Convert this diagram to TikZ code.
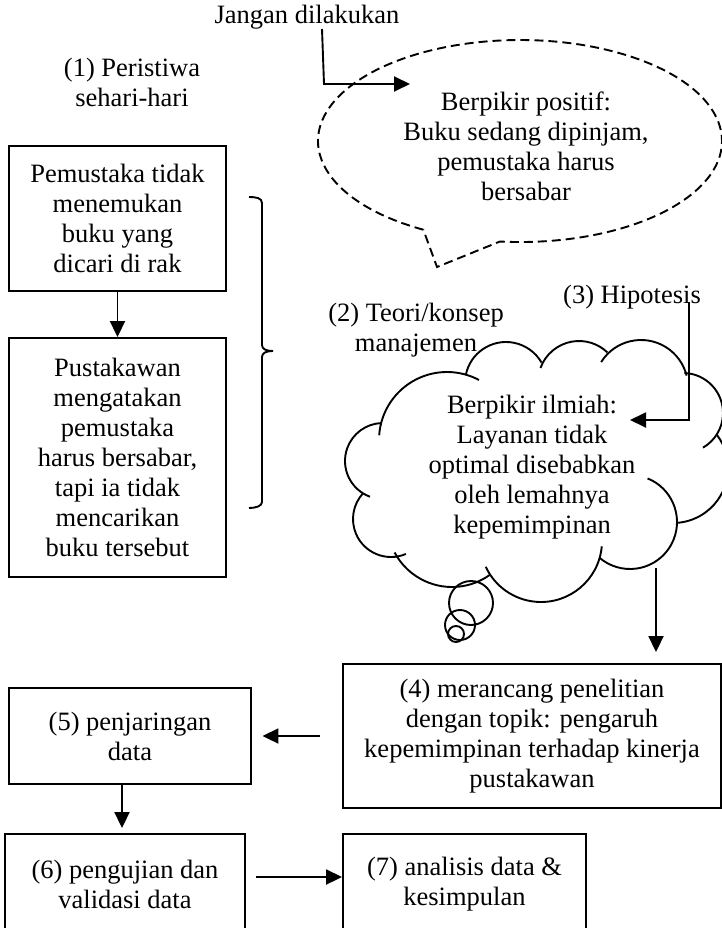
\documentclass[tikz,border=0pt]{standalone}
\usepackage{fontspec}
\setmainfont{Liberation Serif}
\usetikzlibrary{arrows.meta}
\begin{document}
\begin{tikzpicture}[x=1pt,y=-1pt,
  txt/.style={font=\fontsize{26.5}{30}\selectfont, align=center, inner sep=0pt},
  stepbox/.style={txt, draw, line width=1.9pt},
  ln/.style={line width=1.9pt},
  arr/.style={line width=1.9pt, -{Triangle[length=16pt,width=15pt]}},
  bubble/.style={line width=1.9pt, dash pattern=on 9pt off 5pt},
]
\fill[white] (0,0) rectangle (722,928);
\useasboundingbox (0,0) rectangle (722,928);

% --- everyday event (left column) ---
\node[txt] (peristiwa) at (132,82) {(1) Peristiwa\\sehari-hari};
\node[stepbox, minimum width=217pt, minimum height=145pt] (b1) at (117.5,218.5)
  {Pemustaka tidak\\menemukan\\buku yang\\dicari di rak};
\node[stepbox, minimum width=217pt, minimum height=239pt] (b2) at (117.5,457.5)
  {Pustakawan\\mengatakan\\pemustaka\\harus bersabar,\\tapi ia tidak\\mencarikan\\buku tersebut};
\draw[arr] (b1) -- (b2);

% right brace grouping the two boxes
\draw[ln] (249,197) .. controls (256,197) and (262,198) .. (262,203) -- (262,345)
  .. controls (262,349) and (266,351) .. (273,351)
  .. controls (266,351) and (262,353) .. (262,357) -- (262,502)
  .. controls (262,506) and (256,508) .. (249,508);

% --- positive thinking (dashed speech bubble) ---
\node[txt] (jangan) at (307,17) {Jangan dilakukan};
\draw[bubble] (423.3,229.7) arc[start angle=118.6, end angle=455.7, x radius=202, y radius=101]
  -- (437,267) -- cycle;
\node[txt] (positif) at (526,146) {Berpikir positif:\\Buku sedang dipinjam,\\pemustaka harus\\bersabar};
\coordinate (j1) at (322,29);
\coordinate (j2) at (324,84);
\coordinate (j3) at (410,84);
\draw[arr] (j1) -- (j2) -- (j3);

% --- scientific thinking (thought cloud) ---
\foreach \cx/\cy/\r/\a/\b in {506/383/41/191/330, 579/382/41/200/314, 641/387/47/212/346,
    683/413/40/272/420, 673/468/55/323/445, 630/522/47/-68/131, 541/541/61/5/155,
    452/522/65/54/152, 391/519/38/67/223, 383/461/38/110/268, 447/440/68/184/298}
  \draw[ln] (\cx,\cy) ++(\a:\r) arc[start angle=\a, end angle=\b, radius=\r];
\draw[ln] (471,603) circle[radius=22];
\draw[ln] (460,625) circle[radius=15];
\draw[ln] (456,634) circle[radius=8];
\node[txt] (ilmiah) at (532,467)
  {Berpikir ilmiah:\\Layanan tidak\\optimal disebabkan\\oleh lemahnya\\kepemimpinan};
\node[txt] (teori) at (416,330) {(2) Teori/konsep\\manajemen};
\node[txt] (hipotesis) at (632,297) {(3) Hipotesis};
\coordinate (h1) at (689,302);
\coordinate (h2) at (630,420);
\draw[arr] (h1) |- (h2);

% --- research steps ---
\node[stepbox, minimum width=378pt, minimum height=144pt] (b4) at (532,736)
  {(4) merancang penelitian\\dengan topik: pengaruh\\kepemimpinan terhadap kinerja\\pustakawan};
\node[stepbox, minimum width=242pt, minimum height=96pt] (b5) at (130,736)
  {(5) penjaringan\\data};
\node[stepbox, minimum width=240pt, minimum height=100pt] (b6) at (125,884)
  {(6) pengujian dan\\validasi data};
\node[stepbox, minimum width=243pt, minimum height=100pt] (b7) at (464.5,884)
  {(7) analisis data \&\\kesimpulan};

\coordinate (cb) at (656,568);
\draw[arr] (cb) -- ([xshift=124pt,yshift=11pt]b4.north);
\draw[arr] ([xshift=-22pt]b4.west) -- ([xshift=10.5pt]b5.east);
\draw[arr] ([xshift=-8pt]b5.south) -- ([xshift=-3pt,yshift=5pt]b6.north);
\draw[arr] ([xshift=10.5pt,yshift=7pt]b6.east) -- ([yshift=7pt]b7.west);
\end{tikzpicture}
\end{document}
